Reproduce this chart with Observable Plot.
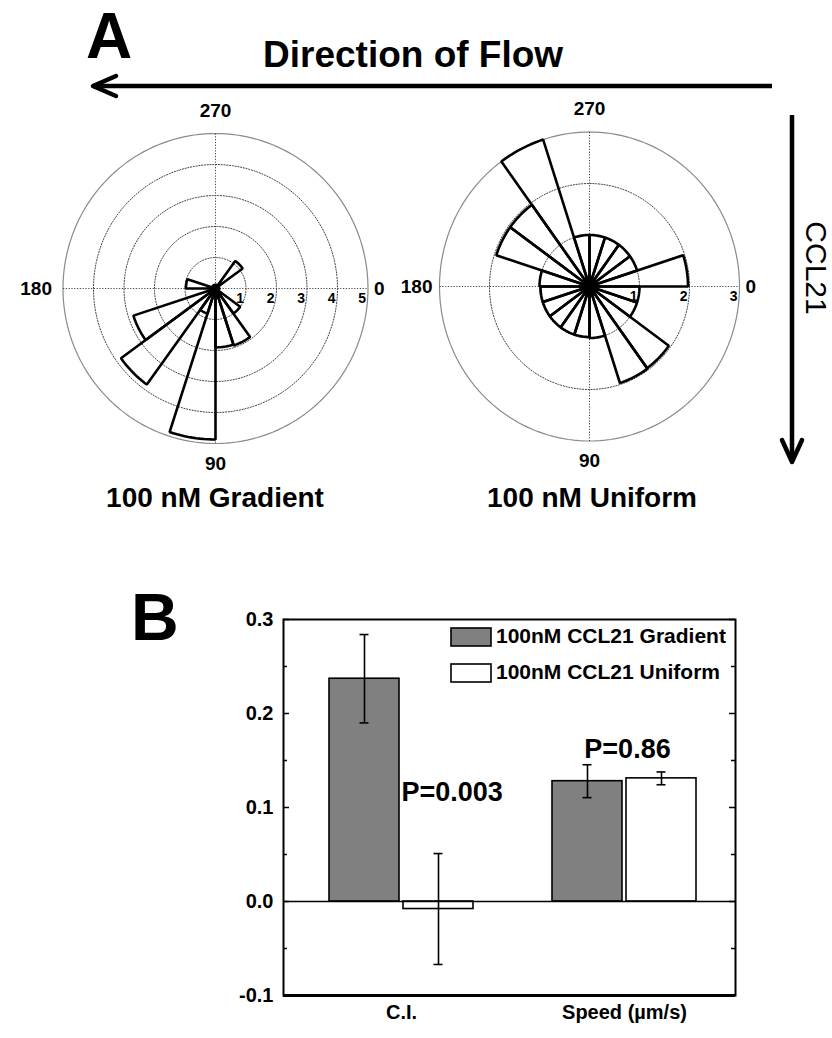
<!DOCTYPE html>
<html><head><meta charset="utf-8">
<script src="https://cdn.jsdelivr.net/npm/d3@7"></script>
<script src="https://cdn.jsdelivr.net/npm/@observablehq/plot@0.6"></script>
<style>
body{margin:0;background:#fff;}
#page{position:relative;width:832px;height:1038px;overflow:hidden;font-family:"Liberation Sans",Arial,sans-serif;}
#page svg{position:absolute;}
</style></head><body><div id="page"></div>
<script>
// ---------------- DATA ----------------
// angular bins (degrees, start of each 18° bin)
const binStarts = [0,18,36,54,72,90,108,126,144,162,180,198,216,234,252,270,288,306,324,342];
const binWidth = 18;
// rose values per bin
const gradientRose = [0,0,1.0,1.93,1.9,4.87,0.85,3.83,2.83,0,0.97,0,0,0,0,0,0,1.1,0,0];
const uniformRose  = [1.0,1.0,1.96,1.97,1.0,0.98,0.98,0.98,0.98,0.98,1.0,1.96,1.96,3.0,1.0,1.0,1.0,1.0,1.0,1.97];
const gradientTicks = [1,2,3,4,5];
const uniformTicks = [1,2,3];
const angleLabels = [0,90,180,270];
const roseTitles = ["100 nM Gradient","100 nM Uniform"];

// bar chart
const groups = ["C.I.","Speed (µm/s)"];
const series = ["100nM CCL21 Gradient","100nM CCL21 Uniform"];
const seriesFill = ["#808080","#ffffff"];
const gradientMeans = [0.237,0.128];
const gradientErr   = [0.047,0.0175];
const uniformMeans  = [-0.008,0.131];
const uniformErr    = [0.059,0.0068];
const pLabels = ["P=0.003","P=0.86"];
const pLabelY = [0.116,0.162];
const yTicks = [-0.1,0.0,0.1,0.2,0.3];
const yMinorTicks = [-0.05,0.05,0.15,0.25];

const FONT = "Liberation Sans, Arial, sans-serif";
const page = document.getElementById("page");

// ---------------- ROSES ----------------
function rose({values, ticks, unitX, unitY, cx, cy, left, top, width, height, dx180}) {
  const R = ticks[ticks.length-1];
  const rad = d => d*Math.PI/180;
  const wedgePts = [];
  values.forEach((v,i) => {
    if (!v) return;
    const a0 = binStarts[i], a1 = a0 + binWidth;
    wedgePts.push({bin:i, x:0, y:0});
    for (let k=0;k<=12;k++){ const a = rad(a0+(a1-a0)*k/12); wedgePts.push({bin:i, x:v*Math.cos(a), y:v*Math.sin(a)}); }
  });
  const ringPts = [];
  ticks.forEach(t => { for (let k=0;k<180;k++){ const a = rad(k*2); ringPts.push({ring:t, x:t*Math.cos(a), y:t*Math.sin(a)}); } });
  const ax = d => R*Math.cos(rad(d)), ay = d => R*Math.sin(rad(d));
  const lab = {fontSize:19, fontWeight:"bold", fill:"black"};
  const p = Plot.plot({
    width, height, margin:0,
    style:{fontFamily:FONT, background:"transparent", overflow:"visible"},
    x:{domain:[(left-cx)/unitX,(left+width-cx)/unitX], range:[0,width], axis:null},
    y:{domain:[(top-cy)/unitY,(top+height-cy)/unitY], range:[0,height], axis:null},
    marks:[
      Plot.line(ringPts.filter(d=>d.ring<R), {x:"x", y:"y", z:"ring", curve:"linear-closed", stroke:"#444", strokeWidth:1, strokeDasharray:"1.2,1.6"}),
      Plot.line(ringPts.filter(d=>d.ring===R), {x:"x", y:"y", z:"ring", curve:"linear-closed", stroke:"#8a8a8a", strokeWidth:1.2}),
      Plot.link([{x1:-R,y1:0,x2:R,y2:0},{x1:0,y1:-R,x2:0,y2:R}], {x1:"x1",y1:"y1",x2:"x2",y2:"y2", stroke:"#444", strokeWidth:1, strokeDasharray:"1.2,1.6"}),
      Plot.line(wedgePts, {x:"x", y:"y", z:"bin", curve:"linear-closed", stroke:"black", strokeWidth:2.6, strokeLinejoin:"miter"}),
      Plot.dot([{x:0,y:0}], {x:"x", y:"y", r:5, fill:"black"}),
      Plot.text(ticks, {x:d=>d, y:()=>0, text:d=>String(d), textAnchor:"end", dx:-2, dy:10, fontSize:14, fontWeight:"bold"}),
      Plot.text([270], {x:ax, y:ay, text:d=>String(d), dy:-23, ...lab}),
      Plot.text([90], {x:ax, y:ay, text:d=>String(d), dy:20, ...lab}),
      Plot.text([180], {x:ax, y:ay, text:d=>String(d), textAnchor:"end", dx:dx180, ...lab}),
      Plot.text([0], {x:ax, y:ay, text:d=>String(d), textAnchor:"start", dx:6, ...lab})
    ]
  });
  p.style.left = left+"px"; p.style.top = top+"px";
  page.appendChild(p);
}
rose({values:gradientRose, ticks:gradientTicks, unitX:30.5, unitY:31, cx:215, cy:288, left:0, top:90, width:400, height:400, dx180:-11});
rose({values:uniformRose, ticks:uniformTicks, unitX:50, unitY:51.5, cx:589, cy:286, left:400, top:90, width:432, height:400, dx180:-7});

// ---------------- BAR CHART ----------------
(function(){
  const W = 832, H = 478, top = 560;
  const mL = 283, mR = 97, mT = 59, mB = 43;
  const pi = 0.3557, po = 0.189, align = 0.544;
  const innerW = W - mL - mR;
  const step = innerW/(groups.length - pi + 2*po);
  const bw = step*(1-pi);
  const barW = 70;
  const off = bw/2 - barW/2;
  const rows = groups.map((g,i)=>({group:g, g:gradientMeans[i], ge:gradientErr[i], u:uniformMeans[i], ue:uniformErr[i], p:pLabels[i], py:pLabelY[i]}));
  const capHalf = 4.5;
  const errMarks = (key, ekey, dx) => [
    Plot.ruleX(rows, {x:"group", y1:d=>d[key]-d[ekey], y2:d=>d[key]+d[ekey], dx, stroke:"black", strokeWidth:1.6}),
    Plot.tickY(rows, {x:"group", y:d=>d[key]+d[ekey], insetLeft:bw/2+dx-capHalf, insetRight:bw/2-dx-capHalf, stroke:"black", strokeWidth:1.6}),
    Plot.tickY(rows, {x:"group", y:d=>d[key]-d[ekey], insetLeft:bw/2+dx-capHalf, insetRight:bw/2-dx-capHalf, stroke:"black", strokeWidth:1.6})
  ];
  const p = Plot.plot({
    width:W, height:H, marginLeft:mL, marginRight:mR, marginTop:mT, marginBottom:mB,
    style:{fontFamily:FONT, background:"transparent", overflow:"visible", color:"black", fontSize:"20px", fontWeight:"bold"},
    x:{type:"band", domain:groups, paddingInner:pi, paddingOuter:po, align, tickSize:0, tickPadding:9, label:null},
    y:{domain:[-0.1,0.3], ticks:yTicks, tickFormat:d=>d.toFixed(1), tickSize:0, tickPadding:10, label:null},
    marks:[
      Plot.barY(rows, {x:"group", y:"g", fill:seriesFill[0], stroke:"black", strokeWidth:1.6, insetRight:bw-barW}),
      Plot.barY(rows, {x:"group", y:"u", fill:seriesFill[1], stroke:"black", strokeWidth:1.6, insetLeft:bw-barW}),
      Plot.ruleY([0], {stroke:"black", strokeWidth:1.5}),
      ...errMarks("g","ge",-off),
      ...errMarks("u","ue",off),
      Plot.text(rows.slice(0,1), {x:"group", y:"py", text:"p", textAnchor:"start", fontSize:27, fontWeight:"bold"}),
      Plot.text(rows.slice(1), {x:"group", y:"py", text:"p", textAnchor:"middle", dx:3, fontSize:27, fontWeight:"bold"}),
      Plot.frame({stroke:"black", strokeWidth:2}),
      Plot.ruleY([-0.1], {stroke:"black", strokeWidth:3}),
      // inward ticks on both sides
      Plot.ruleY(yTicks, {insetRight:innerW-6, stroke:"black", strokeWidth:1.5}),
      Plot.ruleY(yMinorTicks, {insetRight:innerW-4, stroke:"black", strokeWidth:1.5}),
      Plot.ruleY(yTicks, {insetLeft:innerW-6, stroke:"black", strokeWidth:1.5}),
      Plot.ruleY(yMinorTicks, {insetLeft:innerW-4, stroke:"black", strokeWidth:1.5})
    ]
  });
  p.style.left = "0px"; p.style.top = top+"px";
  page.appendChild(p);
})();

// ---------------- ANNOTATIONS ----------------
const svg = d3.select(page).append("svg").attr("width",832).attr("height",1038)
  .style("left","0px").style("top","0px").style("pointer-events","none")
  .attr("font-family",FONT);
svg.append("text").attr("x",86).attr("y",58).attr("font-size",64).attr("font-weight","bold").text("A");
svg.append("text").attr("x",263).attr("y",67).attr("font-size",37).attr("font-weight","bold").text("Direction of Flow");
svg.append("line").attr("x1",93).attr("y1",86).attr("x2",772).attr("y2",86).attr("stroke","black").attr("stroke-width",4.5);
svg.append("polyline").attr("points","116,76 93,86 116,96").attr("fill","none").attr("stroke","black").attr("stroke-width",4.5).attr("stroke-linecap","round").attr("stroke-linejoin","round");
svg.append("line").attr("x1",792).attr("y1",115).attr("x2",792).attr("y2",461).attr("stroke","black").attr("stroke-width",4.5);
svg.append("polyline").attr("points","782,440 792,462 802,440").attr("fill","none").attr("stroke","black").attr("stroke-width",4.5).attr("stroke-linecap","round").attr("stroke-linejoin","round");
svg.append("text").attr("transform","translate(806,268) rotate(90)").attr("text-anchor","middle").attr("font-size",30).text("CCL21");
svg.append("text").attr("x",215).attr("y",507).attr("text-anchor","middle").attr("font-size",28).attr("font-weight","bold").text(roseTitles[0]);
svg.append("text").attr("x",592).attr("y",507).attr("text-anchor","middle").attr("font-size",28).attr("font-weight","bold").text(roseTitles[1]);
svg.append("text").attr("x",131).attr("y",640).attr("font-size",66).attr("font-weight","bold").text("B");
series.forEach((s,i)=>{
  const y0 = 628 + i*36;
  svg.append("rect").attr("x",451).attr("y",y0).attr("width",40).attr("height",18).attr("fill",seriesFill[i]).attr("stroke","black").attr("stroke-width",1.6);
  svg.append("text").attr("x",496).attr("y",y0+15).attr("font-size",21).attr("font-weight","bold").text(s);
});
</script></body></html>
